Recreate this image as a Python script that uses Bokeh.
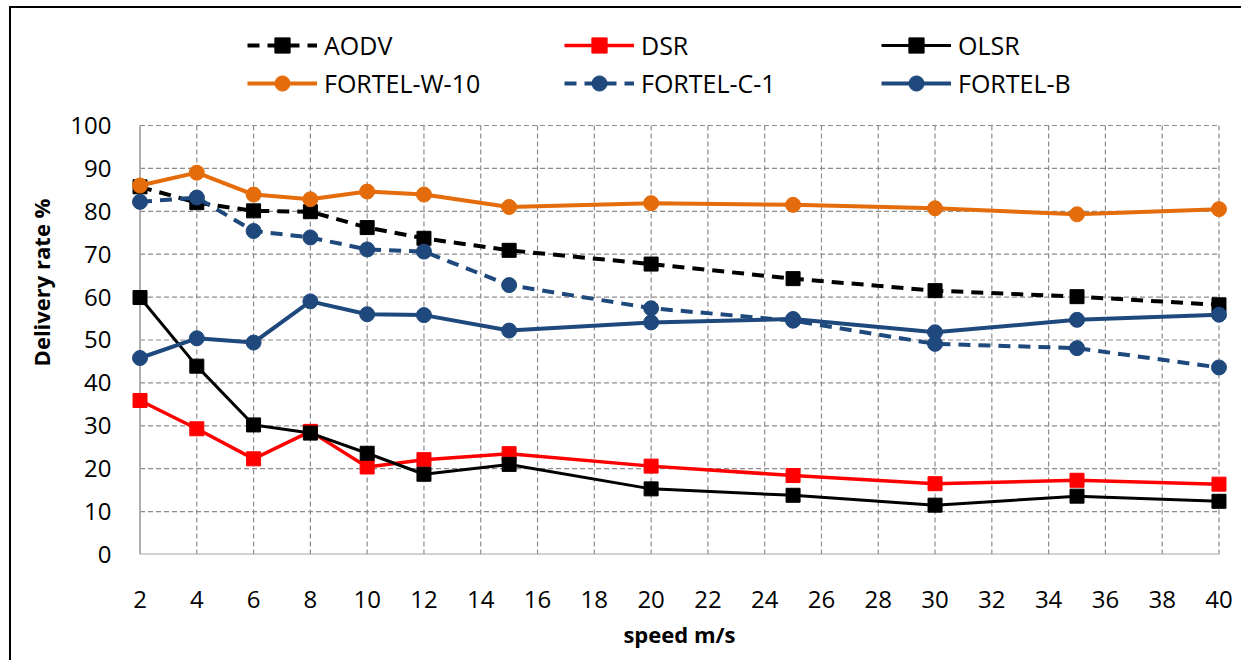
from bokeh.plotting import figure
from bokeh.models import Legend, LegendItem, FixedTicker, Range1d
from bokeh.embed import file_html
from bokeh.resources import INLINE

# ---- data ----
speed = [2, 4, 6, 8, 10, 12, 15, 20, 25, 30, 35, 40]
aodv = [85.7, 82.0, 80.1, 79.9, 76.2, 73.7, 70.9, 67.7, 64.3, 61.5, 60.1, 58.2]
dsr = [35.9, 29.3, 22.3, 28.7, 20.4, 22.1, 23.5, 20.6, 18.4, 16.5, 17.3, 16.4]
olsr = [59.9, 43.9, 30.2, 28.3, 23.6, 18.7, 21.0, 15.3, 13.8, 11.5, 13.6, 12.4]
fortel_w10 = [86.0, 89.0, 83.9, 82.8, 84.6, 83.9, 81.0, 81.9, 81.5, 80.7, 79.3, 80.5]
fortel_c1 = [82.2, 83.2, 75.4, 73.9, 71.1, 70.6, 62.8, 57.4, 54.5, 49.1, 48.1, 43.6]
fortel_b = [45.8, 50.4, 49.4, 59.0, 56.0, 55.8, 52.2, 54.1, 54.9, 51.8, 54.7, 55.9]
x_ticks = list(range(2, 41, 2))
y_ticks = list(range(0, 101, 10))
x_label = "speed m/s"
y_label = "Delivery rate %"

FONT = "Open Sans"
ORANGE = "#E46C0A"
BLUE = "#1F497D"
RED = "#FF0000"
GRID = "#8C8C8C"
AXIS = "#A6A6A6"

pad = 0.3
y_top = 126.8  # extra room above 100 holds the legend inside the frame
p = figure(width=1232, height=654, output_backend="svg", toolbar_location=None,
           x_range=Range1d(x_ticks[0] - pad, x_ticks[-1] + pad),
           y_range=Range1d(y_ticks[0], y_top),
           min_border_left=120, min_border_right=16,
           min_border_top=2, min_border_bottom=108)
p.margin = (6, 0, 0, 9)
p.styles = {"border-left": "2px solid #000000", "border-top": "2px solid #000000",
            "border-right": "none", "border-bottom": "none"}
p.outline_line_color = None
p.background_fill_color = "white"
p.border_fill_color = "white"

# axes
for ax in (p.xaxis[0], p.yaxis[0]):
    ax.axis_line_color = None
    ax.major_tick_line_color = None
    ax.minor_tick_line_color = None
    ax.major_label_text_font = FONT
    ax.major_label_text_font_size = "24px"
    ax.major_label_text_color = "#000000"
    ax.axis_label_text_font = FONT
    ax.axis_label_text_font_size = "22px"
    ax.axis_label_text_font_style = "bold"
    ax.axis_label_text_color = "#000000"
p.xaxis.ticker = FixedTicker(ticks=x_ticks)
p.yaxis.ticker = FixedTicker(ticks=y_ticks)
p.xaxis.major_label_standoff = 30
p.yaxis.major_label_standoff = 14
p.xaxis.axis_label = x_label
p.yaxis.axis_label = y_label
p.xaxis.axis_label_standoff = 8
p.yaxis.axis_label_standoff = 11

# grid drawn over the plotting box only (2..40, 0..100)
p.xgrid.grid_line_color = None
p.ygrid.grid_line_color = None
p.multi_line(xs=[[x_ticks[0], x_ticks[-1]] for _ in y_ticks[1:]],
             ys=[[t, t] for t in y_ticks[1:]],
             line_color=GRID, line_dash="5 3", line_width=1.2)
p.multi_line(xs=[[t, t] for t in x_ticks[1:]],
             ys=[[y_ticks[0], y_ticks[-1]] for _ in x_ticks[1:]],
             line_color=GRID, line_dash="5 3", line_width=1.2)
# axis lines
p.segment(x0=[x_ticks[0], x_ticks[0]], y0=[y_ticks[0], y_ticks[0]],
          x1=[x_ticks[-1], x_ticks[0]], y1=[y_ticks[0], y_ticks[-1]],
          line_color=AXIS, line_width=1.8)

series = [
    ("AODV", aodv, "black", "12 8", "square", 4),
    ("DSR", dsr, RED, "solid", "square", 3.5),
    ("OLSR", olsr, "black", "solid", "square", 3),
    ("FORTEL-W-10", fortel_w10, ORANGE, "solid", "circle", 4),
    ("FORTEL-C-1", fortel_c1, BLUE, "12 8", "circle", 4),
    ("FORTEL-B", fortel_b, BLUE, "solid", "circle", 4),
]
items = {}
for name, ys, col, dash, mk, lw in series:
    l = p.line(speed, ys, line_color=col, line_width=lw, line_dash=dash)
    m = p.scatter(speed, ys, marker=mk, size=15 if mk == "circle" else 14,
                  fill_color=col, line_color=col)
    items[name] = LegendItem(label=name, renderers=[l, m])

# legend fills column by column: order so rows read AODV/DSR/OLSR, W-10/C-1/B
legend_order = ["AODV", "FORTEL-W-10", "DSR", "FORTEL-C-1", "OLSR", "FORTEL-B"]
legend = Legend(items=[items[k] for k in legend_order], ncols=3, location=(116, 452),
                glyph_width=70, glyph_height=38, label_height=38, label_width=240,
                label_standoff=7, spacing=0, padding=0, margin=0,
                border_line_color=None, background_fill_alpha=0,
                label_text_font=FONT, label_text_font_size="25px",
                label_text_color="#000000")
p.add_layout(legend)

open("out.html", "w").write(file_html(p, INLINE))
